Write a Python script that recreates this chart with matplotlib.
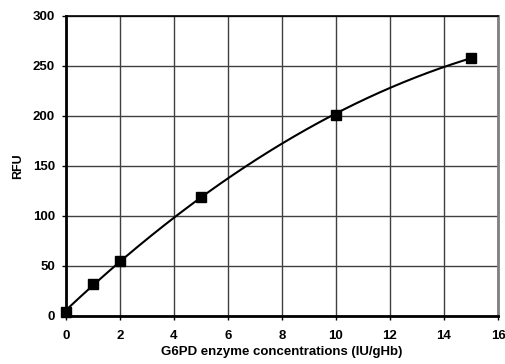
import numpy as np
import matplotlib
matplotlib.use('Agg')
import matplotlib.pyplot as plt

plt.rcParams['font.family'] = ['Liberation Sans', 'DejaVu Sans']
plt.rcParams['font.weight'] = 'bold'

# data
conc = np.array([0, 1, 2, 5, 10, 15])
rfu = np.array([4, 32, 55, 119, 201, 258])

x_ticks = np.arange(0, 17, 2)
y_ticks = np.arange(0, 301, 50)

# 2nd order polynomial trendline
coef = np.polyfit(conc, rfu, 2)
xf = np.linspace(conc.min(), conc.max(), 200)
yf = np.polyval(coef, xf)

f = plt.figure(figsize=(5.06, 3.64), dpi=100)
ax = f.add_axes([0.1304, 0.1319, 0.8538, 0.8251])

ax.plot(xf, yf, color='k', lw=1.5, zorder=3)
ax.plot(conc, rfu, ls='none', marker='s', ms=6.5, color='k', zorder=4, clip_on=False)

ax.set_xlim(0, 16)
ax.set_ylim(0, 300)
ax.set_xticks(x_ticks)
ax.set_yticks(y_ticks)
ax.grid(True, color='#404040', lw=1)
ax.set_axisbelow(True)

for s in ax.spines.values():
    s.set_color('k')
    s.set_linewidth(1.2)
ax.spines['left'].set_linewidth(2)
ax.spines['bottom'].set_linewidth(2)
ax.spines['right'].set_color('#808080')
ax.spines['right'].set_linewidth(2)

ax.tick_params(axis='both', labelsize=9.5, length=3, width=1, direction='out')
ax.tick_params(axis='x', pad=7)
ax.tick_params(axis='y', pad=5)
ax.set_xlabel('G6PD enzyme concentrations (IU/gHb)', fontsize=9.5, fontweight='bold', labelpad=3)
ax.set_ylabel('RFU', fontsize=9, fontweight='bold', labelpad=6)

f.savefig('out.png', dpi=100)
